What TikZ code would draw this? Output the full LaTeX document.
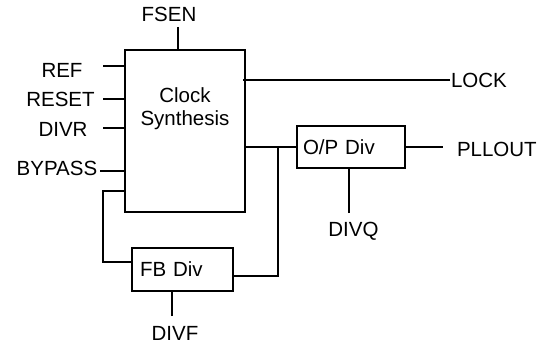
\documentclass[tikz,border=0pt]{standalone}
\usepackage{fontspec}
\setmainfont{Liberation Sans}
\usetikzlibrary{positioning, calc}
\tikzset{
  every picture/.style={line width=2pt, font=\fontsize{20.5}{23}\selectfont},
  blk/.style={draw, rectangle, inner sep=0pt, align=left},
  pin/.style={inner sep=0pt, anchor=base},
  wire/.style={draw=black, line width=2pt},
}

\begin{document}
\begin{tikzpicture}[x=1pt, y=-1pt]
  \useasboundingbox (0,0) rectangle (553,345);
  % blocks
  \node[blk, minimum width=120pt, minimum height=162pt] (cs) at (185,131) {};
  \node[inner sep=0pt, align=center] (cslbl) at (185,109) {Clock\\Synthesis};
  \node[blk, minimum width=108pt, minimum height=42pt, text width=96pt] (opdiv) at (351,147) {O/P Div};
  \node[blk, minimum width=101pt, minimum height=43pt, text width=85pt] (fbdiv) at (182.5,269.5) {FB Div};
  % pin names
  \node[pin] (fsen) at (169,22) {FSEN};
  \node[pin] (ref) at (62,77) {REF};
  \node[pin] (reset) at (60.5,106) {RESET};
  \node[pin] (divr) at (63,136) {DIVR};
  \node[pin] (bypass) at (57,175) {BYPASS};
  \node[pin, anchor=base west] (lock) at (450,87) {LOCK};
  \node[pin, anchor=base west] (pllout) at (456,156) {PLLOUT};
  \node[pin] (divq) at (353.5,236) {DIVQ};
  \node[pin] (divf) at (175,340) {DIVF};
  % wire ends
  \coordinate (fsenin) at (178,27);
  \coordinate (refin) at (103,66);
  \coordinate (resetin) at (103,99);
  \coordinate (divrin) at (103,128);
  \coordinate (bypassin) at (100,171);
  \coordinate (tap) at (278,147);
  \coordinate (fbin) at (103,191);
  \coordinate (pllend) at (443,147);
  \coordinate (divqend) at (349,213);
  \coordinate (divfend) at (172,316);
  % inputs
  \draw[wire] (fsenin) -- (fsenin |- cs.north);
  \draw[wire] (refin) -- (refin -| cs.west);
  \draw[wire] (resetin) -- (resetin -| cs.west);
  \draw[wire] (divrin) -- (divrin -| cs.west);
  \draw[wire] (bypassin) -- (bypassin -| cs.west);
  % outputs
  \draw[wire] (lock.west) -- (lock.west -| cs.east) -- ++(-3,0);
  \draw[wire] (cs.east |- opdiv.west) -- (opdiv.west);
  \draw[wire] (opdiv.east) -- (pllend);
  \draw[wire] (divqend) -- (divqend |- opdiv.south);
  % feedback loop
  \draw[wire] (tap) |- ([yshift=-6.5pt]fbdiv.east);
  \draw[wire] ([yshift=7.5pt]fbdiv.west) -| (fbin) -- (fbin -| cs.west);
  \draw[wire] (divfend) -- (divfend |- fbdiv.south);
\end{tikzpicture}
\end{document}
